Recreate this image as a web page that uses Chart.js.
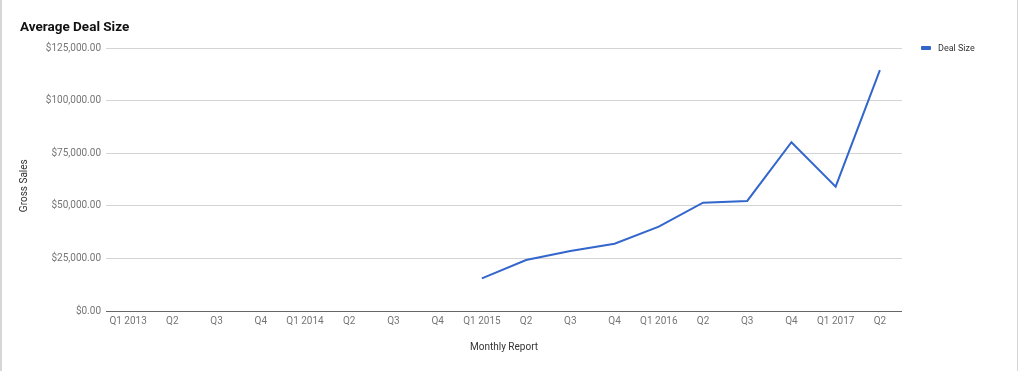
<!DOCTYPE html>
<html>
<head>
<meta charset="utf-8">
<script src="https://cdn.jsdelivr.net/npm/chart.js@4.4.1/dist/chart.umd.min.js"></script>
<style>
  body { margin: 0; background: #fff; font-family: Roboto, Arial, sans-serif; }
  #wrap { position: relative; width: 1020px; height: 371px; }
  #chartTitle { position: absolute; left: 20px; top: 18px; font-size: 13.5px; font-weight: bold; color: #111; white-space: nowrap; }
  #legend { position: absolute; left: 921px; top: 43px; font-size: 9px; color: #333; white-space: nowrap; }
  #legend .mark { display: inline-block; width: 10px; height: 4px; border-radius: 1px; background: #3366cc; vertical-align: middle; margin-right: 7px; position: relative; top: -1px; }
  #edgeLeft { position: absolute; left: 0; top: 0; width: 2px; height: 371px; background: #d6d6d6; }
  #edgeRight { position: absolute; left: 1017px; top: 0; width: 1px; height: 371px; background: #d6d6d6; }
</style>
</head>
<body>
<div id="wrap">
  <canvas id="myChart" width="1020" height="371"></canvas>
  <div id="chartTitle">Average Deal Size</div>
  <div id="legend"><span class="mark"></span>Deal Size</div>
  <div id="edgeLeft"></div>
  <div id="edgeRight"></div>
</div>
<script>
// quarters shown on the x axis
const quarters = ["Q1 2013", "Q2", "Q3", "Q4", "Q1 2014", "Q2", "Q3", "Q4",
  "Q1 2015", "Q2", "Q3", "Q4", "Q1 2016", "Q2", "Q3", "Q4", "Q1 2017", "Q2"];

// average deal size, no data before 2015
const dealSize = [null, null, null, null, null, null, null, null,
  15500, 24200, 28500, 32000, 40100, 51500, 52300, 80200, 59100, 114500];

const yMin = 0;
const yMax = 125000;
const yStep = 25000;

const chartDOM = document.getElementById("myChart");

function money(value) {
  return "$" + Number(value).toLocaleString("en-US", { minimumFractionDigits: 2, maximumFractionDigits: 2 });
}

const data = {
  labels: quarters,
  datasets: [
    {
      label: "Deal Size",
      data: dealSize,
      borderColor: "#3366cc",
      backgroundColor: "#3366cc",
      borderWidth: 2,
      pointRadius: 0,
      tension: 0,
      spanGaps: false,
    },
  ],
};

const config = {
  type: "line",
  data,
  options: {
    responsive: false,
    animation: false,
    layout: { padding: { left: 0, top: 48, right: 118, bottom: 0 } },
    plugins: {
      legend: { display: false },
      title: { display: false },
      tooltip: { enabled: false },
    },
    scales: {
      x: {
        offset: true,
        grid: { display: false, drawTicks: false },
        border: { display: false },
        ticks: {
          autoSkip: false,
          maxRotation: 0,
          padding: 4,
          color: "#757575",
          font: { family: "Roboto", size: 10 },
        },
        title: {
          display: true,
          text: "Monthly Report",
          color: "#333",
          font: { family: "Roboto", size: 10 },
          padding: { top: 0, bottom: 18 },
        },
        afterFit: (scale) => {
          scale.height = 60;
        },
      },
      y: {
        min: yMin,
        max: yMax,
        grid: {
          drawTicks: false,
          color: (ctx) => (ctx.tick && ctx.tick.value === 0 ? "#666" : "#d4d4d4"),
        },
        border: { display: false },
        ticks: {
          stepSize: yStep,
          padding: 5,
          color: "#757575",
          font: { family: "Roboto", size: 10 },
          callback: (value) => money(value),
        },
        title: {
          display: true,
          // trailing spaces push the title a bit lower, like the original
          text: "Gross Sales     ",
          color: "#333",
          font: { family: "Roboto", size: 10 },
          padding: { top: 18, bottom: 0 },
        },
        afterFit: (scale) => {
          scale.width = 106;
        },
      },
    },
  },
};

let myChart = new Chart(chartDOM, config);
</script>
</body>
</html>
